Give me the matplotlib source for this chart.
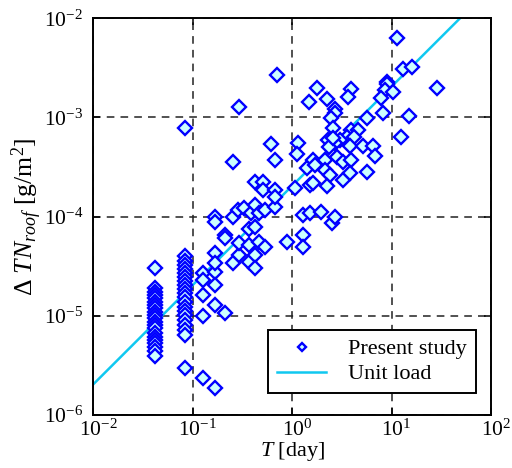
import matplotlib
matplotlib.use("Agg")
import matplotlib.pyplot as plt
from matplotlib.transforms import ScaledTranslation

plt.rcParams["font.family"] = "Liberation Serif"
plt.rcParams["mathtext.fontset"] = "custom"
plt.rcParams["mathtext.rm"] = "Liberation Serif"
plt.rcParams["mathtext.it"] = "Liberation Serif:italic"
plt.rcParams["mathtext.bf"] = "Liberation Serif:bold"

# duration T [day] and roof TN load [g/m2]
t_1h = [0.0417] * 21
tn_1h = [3.04e-5, 1.91e-5, 1.74e-5, 1.63e-5, 1.52e-5, 1.38e-5, 1.29e-5,
         1.20e-5, 1.10e-5, 1.02e-5, 9.5e-6, 8.7e-6, 8.1e-6, 7.6e-6,
         6.7e-6, 6.1e-6, 5.7e-6, 5.3e-6, 4.9e-6, 4.4e-6, 3.9e-6]

t_2h = [0.0833] * 21
tn_2h = [4.02e-5, 3.57e-5, 3.26e-5, 2.97e-5, 2.71e-5, 2.47e-5, 2.25e-5,
         2.05e-5, 1.87e-5, 1.70e-5, 1.55e-5, 1.38e-5, 1.23e-5, 1.12e-5,
         1.02e-5, 9.1e-6, 8.1e-6, 7.2e-6, 6.4e-6, 2.99e-6, 7.9e-4]

t_other = [0.127, 0.127, 0.167, 0.167, 0.127, 0.167, 0.210, 0.127, 0.127, 0.167,
           0.167, 0.167, 0.251, 0.291, 0.369, 0.422, 0.422, 0.291, 0.369, 0.466,
           0.531, 0.879, 0.210, 0.210, 0.369, 0.422, 0.167, 0.167, 0.251, 0.287,
           0.330, 0.385, 0.420, 0.466, 0.531, 0.670, 1.29, 1.29, 1.29,
           0.42, 0.51, 0.503, 0.670, 0.670, 1.06, 1.40, 0.251, 0.670, 0.611,
           0.291, 0.702, 1.15, 1.11,
           1.76, 1.47, 2.22, 3.87, 3.66, 2.69, 2.69, 2.43, 2.58, 8.91,
           9.04, 8.57, 10.4, 7.75, 12.9, 15.9, 5.69, 8.11, 14.8, 12.3,
           3.87, 4.61, 3.52, 4.18, 2.30, 3.02, 2.69, 2.36, 3.80, 5.11,
           6.53, 6.79, 1.63, 2.13, 1.69, 2.80, 2.13, 2.39, 3.26, 3.87,
           3.26, 3.80, 5.60, 1.51, 1.63, 2.22, 1.51, 1.93, 2.49, 2.69,
           11.3, 28.6, 2.58]
tn_other = [2.69e-5, 2.30e-5, 2.79e-5, 2.05e-5, 1.63e-5, 1.29e-5, 1.06e-5, 9.98e-6, 2.35e-6, 1.86e-6,
            4.28e-5, 3.39e-5, 3.39e-5, 4.11e-5, 3.52e-5, 4.11e-5, 3.04e-5, 5.40e-5, 5.19e-5, 5.60e-5,
            4.97e-5, 5.60e-5, 6.54e-5, 6.05e-5, 7.55e-5, 7.9e-5, 1.00e-4, 8.9e-5, 9.86e-5, 1.17e-4,
            1.22e-4, 1.09e-4, 1.31e-4, 1.09e-4, 1.17e-4, 1.26e-4, 1.04e-4, 6.54e-5, 4.97e-5,
            2.26e-4, 2.26e-4, 1.86e-4, 1.86e-4, 1.58e-4, 1.95e-4, 3.08e-4, 3.57e-4, 3.73e-4, 5.41e-4,
            1.26e-3, 2.65e-3, 5.53e-4, 4.33e-4,
            1.98e-3, 1.44e-3, 1.53e-3, 1.92e-3, 1.62e-3, 1.23e-3, 1.10e-3, 9.9e-4, 7.8e-4, 2.30e-3,
            2.18e-3, 1.89e-3, 1.82e-3, 1.56e-3, 3.05e-3, 3.19e-3, 9.9e-4, 1.10e-3, 1.04e-3, 6.3e-4,
            7.5e-4, 7.5e-4, 6.36e-4, 6.36e-4, 5.93e-4, 5.93e-4, 5.53e-4, 5.01e-4, 5.16e-4, 5.2e-4,
            5.2e-4, 4.09e-4, 3.73e-4, 3.73e-4, 3.32e-4, 4.03e-4, 2.96e-4, 2.63e-4, 3.57e-4, 3.73e-4,
            2.34e-4, 2.74e-4, 2.84e-4, 2.09e-4, 2.17e-4, 2.02e-4, 1.09e-4, 1.12e-4, 8.7e-5, 1.00e-4,
            6.28e-3, 1.98e-3, 6.17e-4]

T = t_1h + t_2h + t_other
TN = tn_1h + tn_2h + tn_other

# unit load line: TN = k * T
unit_k = 2.05e-4
t_line = [1e-2, 1e2]

fig = plt.figure(figsize=(5.12, 4.68), dpi=100)
ax = fig.add_axes([0.1826, 0.1132, 0.7764, 0.8478])

ax.plot(T, TN, "D", markersize=7.3, markeredgewidth=1.7,
        markeredgecolor="#0000ff", markerfacecolor="#ccffff",
        linestyle="none", label="Present study", zorder=3)
ax.plot(t_line, [unit_k * t for t in t_line], "-", color="#10c8f0",
        linewidth=1.8, label="Unit load", zorder=2)

ax.set_xscale("log")
ax.set_yscale("log")
ax.set_xlim(1e-2, 1e2)
ax.set_ylim(1e-6, 1e-2)
ax.minorticks_off()
ax.grid(True, which="major", linestyle=(0, (5, 4)), color="#222222", linewidth=1.1)

ax.tick_params(which="both", direction="in", top=True, right=True,
               labelsize=15.5, length=5, width=1.1)
ax.tick_params(axis="x", pad=3)
ax.tick_params(axis="y", pad=7.5)
for s in ax.spines.values():
    s.set_linewidth(1.4)

# x tick labels sit a little right of the tick, as in the original
shift = ScaledTranslation(0.05, 0, fig.dpi_scale_trans)
for lbl in ax.get_xticklabels():
    lbl.set_transform(lbl.get_transform() + shift)

ax.set_xlabel(r"$T$ [day]", fontsize=16, labelpad=0)
ax.set_ylabel(r"$\Delta\ TN_{roof}$ [g/m$^2$]", fontsize=18.5, labelpad=0)

leg = ax.legend(loc="lower right", bbox_to_anchor=(0.962, 0.055),
                borderaxespad=0, fontsize=16, markerscale=0.6,
                fancybox=False, edgecolor="black", framealpha=1,
                handlelength=2.2, borderpad=0.4, labelspacing=0.2,
                handletextpad=1.0)
leg.get_frame().set_linewidth(1.4)

fig.savefig("out.png", dpi=100)
